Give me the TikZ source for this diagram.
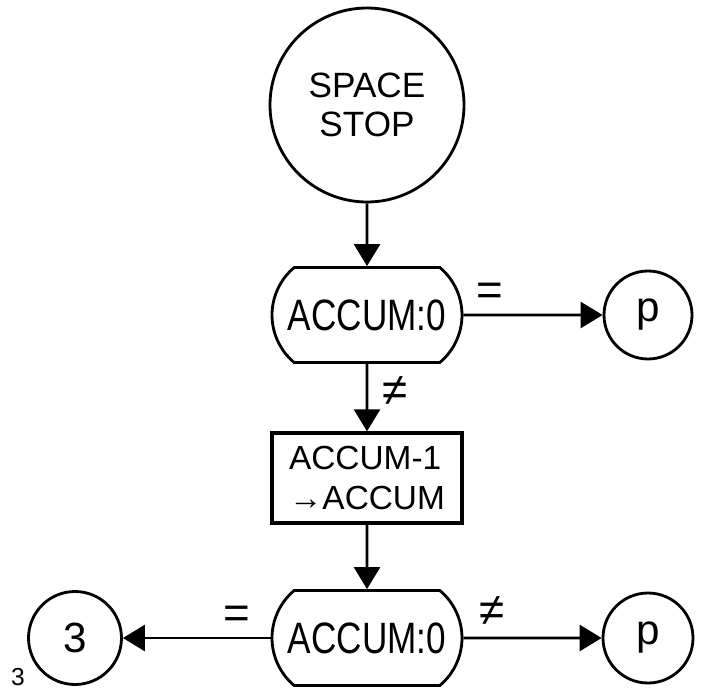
\documentclass[tikz,border=0pt]{standalone}
\usepackage{fontspec}
\setmainfont{Liberation Sans}
\newfontfamily\narrowhand[FakeStretch=0.8]{Liberation Sans}
\usetikzlibrary{arrows.meta,shapes.misc}

\begin{document}
\begin{tikzpicture}[
	line width=1.6pt,
	>={Triangle[length=0.44cm,width=0.52cm]},
	term/.style={circle, draw, inner sep=0pt},
	test/.style={rounded rectangle, rounded rectangle arc length=100, draw,
		minimum width=3.8cm, minimum height=1.9cm, inner sep=0pt,
		font=\narrowhand\fontsize{25}{28}\selectfont},
	work/.style={rectangle, draw, line width=1.9pt, minimum width=3.8cm,
		minimum height=1.8cm, align=left, font=\fontsize{19}{23}\selectfont},
	cond/.style={font=\fontsize{26}{28}\selectfont}
]
\useasboundingbox (0, 0) rectangle (14.06, 13.96);

\node[term, minimum size=3.88cm, align=center, font=\fontsize{20}{22}\selectfont]
	(start) at (7.34, 11.86) {SPACE\\STOP};
\node[test] (test1) at (7.34, 7.66) {ACCUM:0};
\node[term, minimum size=1.76cm, font=\fontsize{24}{26}\selectfont] (exit1) at (12.96, 7.66) {p};
\node[work] (dec) at (7.34, 4.4) {ACCUM-1\\→ACCUM};
\node[test] (test2) at (7.34, 1.2) {ACCUM:0};
\node[term, minimum size=1.86cm, font=\fontsize{24}{26}\selectfont] (back) at (1.5, 1.2) {3};
\node[term, minimum size=1.8cm, font=\fontsize{24}{26}\selectfont] (exit2) at (12.96, 1.2) {p};
\node[font=\fontsize{14}{16}\selectfont] (page) at (0.36, 0.42) {3};

\draw[->] (start) -- (test1);
\draw[->] (test1) -- (exit1);
\draw[->] (test1) -- (dec);
\draw[->] (dec) -- (test2);
\draw[->] (test2) -- (back);
\draw[->] (test2) -- (exit2);

% branch marks
\node[cond] (eq1) at (9.8, 8.08) {=};
\node[cond] (ne1) at (7.9, 6.14) {≠};
\node[cond] (eq2) at (4.74, 1.62) {=};
\node[cond] (ne2) at (9.84, 1.74) {≠};
\end{tikzpicture}
\end{document}
